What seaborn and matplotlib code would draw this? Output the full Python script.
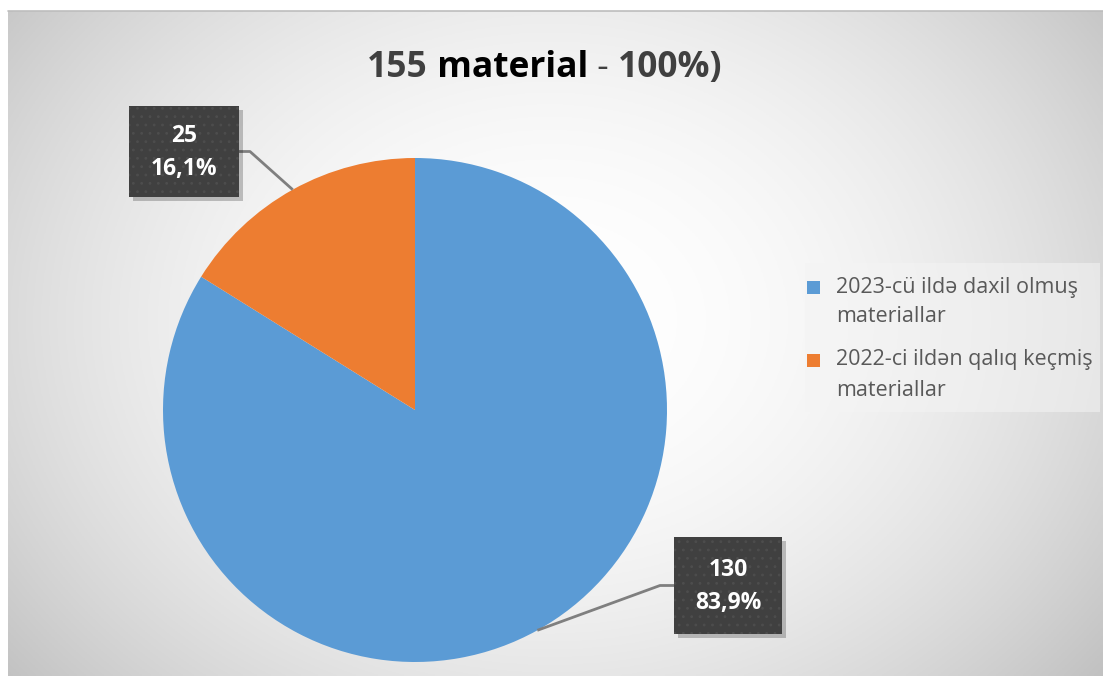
import numpy as np
import matplotlib
matplotlib.use("Agg")
import matplotlib.pyplot as plt
import seaborn as sns
from matplotlib.patches import Rectangle

# ---- data ----
categories = ["2023-cü ildə daxil olmuş\nmateriallar", "2022-ci ildən qalıq keçmiş\nmateriallar"]
values = [130, 25]
percent_labels = ["83,9%", "16,1%"]
colors = ["#5B9BD5", "#ED7D31"]
title_parts = ["155", " material", " - ", "100%)"]

sns.set_theme(style="white")
plt.rcParams["font.family"] = ["Open Sans", "DejaVu Sans"]
plt.rcParams["hatch.linewidth"] = 0.8

W, H = 1103, 676
fig = plt.figure(figsize=(W / 100, H / 100), dpi=100)
fig.patch.set_facecolor("white")

# background gradient (chart area)
bx0, by_top = 8, 11
bg = fig.add_axes([bx0 / W, 0, 1 - bx0 / W, (H - by_top) / H])
xs = np.linspace(bx0, W, 400)
ys = np.linspace(by_top, H, 300)
X, Y = np.meshgrid(xs, ys)
d = np.sqrt(((X - 550) / 650) ** 2 + ((Y - 320) / 520) ** 2)
g = np.clip(255 - 52 * d ** 2, 192, 255) / 255
bg.imshow(np.dstack([g, g, g]), aspect="auto", extent=[0, 1, 0, 1], origin="upper")
bg.axis("off")
fig.add_artist(plt.Line2D([bx0 / W, 1], [1 - by_top / H] * 2, color="#bdbdbd", lw=1.2,
                          transform=fig.transFigure))

# main axes in pixel coordinates
ax = fig.add_axes([0, 0, 1, 1])
cx, cy, R = 415, H - 410, 252
wedges, _ = ax.pie(values, colors=colors, startangle=90, counterclock=False,
                   center=(cx, cy), radius=R, wedgeprops=dict(linewidth=0))
ax.set_xlim(0, W)
ax.set_ylim(0, H)
ax.set_aspect("equal")
ax.axis("off")

# data labels
boxes = [(674, 782, 537, 634), (129, 239, 106, 197)]
for w, v, p, (x0, x1, y0, y1) in zip(wedges, values, percent_labels, boxes):
    mid = np.deg2rad((w.theta1 + w.theta2) / 2)
    px, py = cx + R * np.cos(mid), cy + R * np.sin(mid)
    by0, by1 = H - y1, H - y0
    ymid = (by0 + by1) / 2
    if x0 > cx:
        ex, kx = x0, x0 - 14
    else:
        ex, kx = x1, x1 + 11
    ax.plot([px, kx, ex], [py, ymid, ymid], color="#7f7f7f", lw=2, zorder=3,
            solid_capstyle="butt")
    ax.add_patch(Rectangle((x0 + 4, by0 - 4), x1 - x0, by1 - by0, facecolor="black",
                           alpha=0.22, edgecolor="none", zorder=4))
    ax.add_patch(Rectangle((x0, by0), x1 - x0, by1 - by0, facecolor="#404040",
                           edgecolor="#4d4d4d", hatch="..", linewidth=0, zorder=5))
    ax.text((x0 + x1) / 2, ymid + 16, str(v), color="white", fontsize=16.5,
            fontweight="bold", ha="center", va="center", zorder=6)
    ax.text((x0 + x1) / 2, ymid - 18, p, color="white", fontsize=16.5,
            fontweight="bold", ha="center", va="center", zorder=6)

# title (mixed colours)
title_colors = ["#404040", "black", "#404040", "#404040"]
title_weights = ["bold", "bold", "normal", "bold"]
renderer = fig.canvas.get_renderer()
texts = []
for s, c, fw in zip(title_parts, title_colors, title_weights):
    t = ax.text(0, H - 68, s, fontsize=25.5, fontweight=fw, color=c, va="center", ha="left")
    texts.append(t)
widths = [t.get_window_extent(renderer).width for t in texts]
xstart = 545 - sum(widths) / 2
for t, wdt in zip(texts, widths):
    t.set_x(xstart)
    xstart += wdt

# legend (manual, squares aligned with first line)
ax.add_patch(Rectangle((805, H - 412), 295, 149, facecolor="#f4f4f4", alpha=0.55,
                       edgecolor="none", zorder=1))
line_pitch = 30
entry_y = [287, 360]
for lab, col, yy in zip(categories, colors, entry_y):
    ax.add_patch(Rectangle((807, H - yy - 6.5), 13, 13, facecolor=col, edgecolor="none", zorder=2))
    for k, part in enumerate(lab.split("\n")):
        ax.text(836, H - yy - k * line_pitch, part, fontsize=15.5, color="#595959",
                ha="left", va="center", zorder=2)

fig.savefig("out.png", dpi=100)
